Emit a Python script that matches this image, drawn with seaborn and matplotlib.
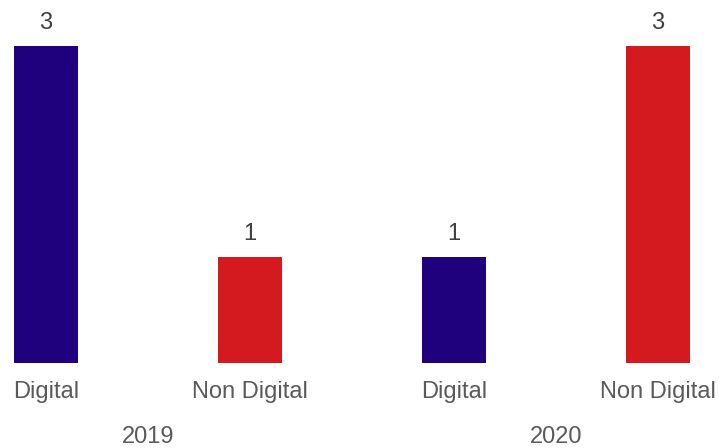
import matplotlib
matplotlib.use("Agg")
import matplotlib.pyplot as plt
import seaborn as sns
import pandas as pd

years = ["2019", "2019", "2020", "2020"]
types = ["Digital", "Non Digital", "Digital", "Non Digital"]
counts = [3, 1, 1, 3]
colors = {"Digital": "#1f007d", "Non Digital": "#d41a1f"}

df = pd.DataFrame({"year": years, "type": types, "count": counts})
df["slot"] = [f"{y} {t}" for y, t in zip(years, types)]

sns.set_theme(style="white")
plt.rcParams["font.family"] = ["Liberation Sans", "DejaVu Sans"]

fig = plt.figure(figsize=(7.19, 4.48), dpi=100)
ax = fig.add_axes([0, 85 / 448, 1, 363 / 448])

sns.barplot(data=df, x="slot", y="count", hue="type", palette=colors,
            order=list(df["slot"]), dodge=False, width=0.314, legend=False,
            saturation=1, linewidth=0, ax=ax)

ax.set_xlim(-46 / 204, 3 + 61 / 204)
ax.set_ylim(0, 3 * 363 / 317)
ax.axis("off")

fs = 17
for i, c in enumerate(counts):
    ax.annotate(str(c), (i, c), xytext=(0, 17 * 0.72), textcoords="offset points",
                ha="center", va="baseline", fontsize=fs, color="#404040")

trans = ax.get_xaxis_transform()
for i, t in enumerate(types):
    ax.annotate(t, (i, 0), xycoords=trans, xytext=(0, -29 * 0.72),
                textcoords="offset points", ha="center", va="center",
                fontsize=fs, color="#5a5a5a")

for k, y in enumerate(["2019", "2020"]):
    ax.annotate(y, (2 * k + 0.5, 0), xycoords=trans, xytext=(0, -74 * 0.72),
                textcoords="offset points", ha="center", va="center",
                fontsize=fs, color="#5a5a5a")

fig.savefig("out.png", dpi=100)
